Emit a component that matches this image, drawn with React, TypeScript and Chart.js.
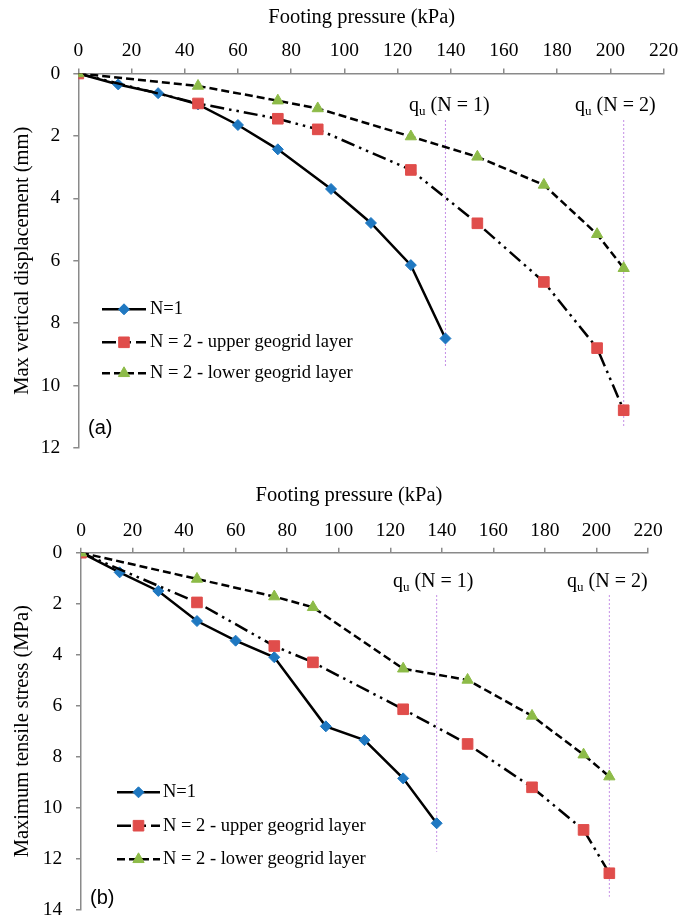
import React, { useEffect, useRef } from "react";
import { Chart, registerables } from "chart.js";

Chart.register(...registerables);

// ---------- data ----------
const pressureN1 = [0, 15, 30, 45, 60, 75, 95, 110, 125, 138];
const pressureN2 = [0, 45, 75, 90, 125, 150, 175, 195, 205];

const dispN1 = [0, 0.35, 0.63, 0.99, 1.65, 2.43, 3.7, 4.79, 6.14, 8.49];
const dispUpper = [0, 0.96, 1.45, 1.79, 3.09, 4.8, 6.68, 8.8, 10.79];
const dispLower = [0, 0.4, 0.87, 1.12, 2.02, 2.67, 3.57, 5.15, 6.24];

const stressN1 = [0, 0.77, 1.5, 2.68, 3.45, 4.1, 6.81, 7.35, 8.85, 10.61];
const stressUpper = [0, 1.95, 3.66, 4.3, 6.14, 7.5, 9.2, 10.87, 12.57];
const stressLower = [0, 1.03, 1.72, 2.14, 4.55, 4.99, 6.4, 7.92, 8.78];

const seriesLabels = ["N=1", "N = 2 - upper geogrid layer", "N = 2 - lower geogrid layer"];
const quValues = [138, 205];
const quLabels = ["(N = 1)", "(N = 2)"];
const dispQuStart = 1.49;
const dispQuEnds = [9.41, 11.36];
const stressQuStart = 1.66;
const stressQuEnds = [11.73, 13.49];

const xTitle = "Footing pressure (kPa)";
const dispTitle = "Max vertical displacement (mm)";
const stressTitle = "Maximum tensile stress (MPa)";

// ---------- styles ----------
const SERIF = '"Liberation Serif", "Times New Roman", serif';
const SANS = '"Liberation Sans", Arial, sans-serif';
const AXIS_GREY = "#8a8a8a";
const BLUE = "#1F78C1";
const RED = "#E04D4B";
const GREEN = "#8DBB48";
const QU_COLOR = "#C48EE6";

const seriesStyles = [
  { dash: [] as number[], shape: "rectRot", radius: 5.5, color: BLUE, order: 2 },
  { dash: [14, 5, 2.5, 5, 2.5, 5], shape: "rect", radius: 7.5, color: RED, order: 1 },
  { dash: [8, 4], shape: "triangle", radius: 6.5, color: GREEN, order: 0 },
];

function pts(xs: number[], ys: number[]) {
  return xs.map((x, i) => ({ x, y: ys[i] }));
}

function drawMarker(ctx: CanvasRenderingContext2D, shape: string, x: number, y: number, r: number, color: string) {
  ctx.save();
  ctx.fillStyle = color;
  ctx.strokeStyle = color;
  ctx.lineWidth = 1;
  ctx.setLineDash([]);
  ctx.beginPath();
  if (shape === "rectRot") {
    ctx.moveTo(x, y - r);
    ctx.lineTo(x + r, y);
    ctx.lineTo(x, y + r);
    ctx.lineTo(x - r, y);
  } else if (shape === "rect") {
    const s = r * Math.SQRT1_2;
    ctx.rect(x - s, y - s, 2 * s, 2 * s);
  } else {
    const h = r * Math.sqrt(3) / 2;
    ctx.moveTo(x, y - r);
    ctx.lineTo(x + h, y + r / 2);
    ctx.lineTo(x - h, y + r / 2);
  }
  ctx.closePath();
  ctx.fill();
  ctx.stroke();
  ctx.restore();
}

type PanelOpts = {
  height: number;
  yMax: number;
  yTitle: string;
  series: number[][];
  quStart: number;
  quEnds: number[];
  yWidth: number;
  xHeight: number;
  padRight: number;
  padBottom: number;
  yTickPad: number;
  quDx: number[];
  quBaseline: number;
  xTitleX: number;
  xTitleBaseline: number;
  legendRows: number[];
  legendX0: number;
  legendX1: number;
  legendMarkerX: number;
  legendTextX: number;
  panelLabel: string;
  panelX: number;
  panelY: number;
};

function makeChart(canvas: HTMLCanvasElement, o: PanelOpts) {
  const datasets: any[] = [];
  const xsets = [pressureN1, pressureN2, pressureN2];
  o.series.forEach((ys, i) => {
    const st = seriesStyles[i];
    datasets.push({
      label: seriesLabels[i],
      data: pts(xsets[i], ys),
      showLine: true,
      borderColor: "#000",
      borderWidth: 2.5,
      borderDash: st.dash,
      tension: 0,
      pointStyle: st.shape,
      pointRadius: st.radius,
      pointBackgroundColor: st.color,
      pointBorderColor: st.color,
      pointBorderWidth: 1,
      order: st.order,
    });
  });
  quValues.forEach((q, i) => {
    datasets.push({
      label: "qu" + i,
      data: [
        { x: q, y: o.quStart },
        { x: q, y: o.quEnds[i] },
      ],
      showLine: true,
      borderColor: QU_COLOR,
      borderWidth: 1,
      borderDash: [2, 2],
      pointRadius: 0,
      order: 3,
    });
  });

  const overlay = {
    id: "overlay",
    afterDraw(chart: any) {
      const ctx: CanvasRenderingContext2D = chart.ctx;
      const xs = chart.scales.x;
      ctx.save();
      ctx.fillStyle = "#000";
      // x axis title
      ctx.font = `20.5px ${SERIF}`;
      ctx.textAlign = "center";
      ctx.textBaseline = "alphabetic";
      ctx.fillText(xTitle, o.xTitleX, o.xTitleBaseline);
      // q_u labels
      ctx.textAlign = "left";
      quValues.forEach((q, i) => {
        let x = xs.getPixelForValue(q) + o.quDx[i];
        ctx.font = `20px ${SERIF}`;
        ctx.fillText("q", x, o.quBaseline);
        x += ctx.measureText("q").width;
        ctx.font = `13px ${SERIF}`;
        ctx.fillText("u", x, o.quBaseline + 4);
        x += ctx.measureText("u").width;
        ctx.font = `20px ${SERIF}`;
        ctx.fillText(" " + quLabels[i], x, o.quBaseline);
      });
      // legend
      seriesLabels.forEach((lab, i) => {
        const st = seriesStyles[i];
        const y = o.legendRows[i];
        ctx.save();
        ctx.strokeStyle = "#000";
        ctx.lineWidth = 2.5;
        ctx.setLineDash(st.dash);
        ctx.beginPath();
        ctx.moveTo(o.legendX0, y);
        ctx.lineTo(o.legendX1, y);
        ctx.stroke();
        ctx.restore();
        drawMarker(ctx, st.shape, o.legendMarkerX, y, st.radius, st.color);
        ctx.font = `18.5px ${SERIF}`;
        ctx.textBaseline = "middle";
        ctx.textAlign = "left";
        ctx.fillStyle = "#000";
        ctx.fillText(lab, o.legendTextX, y);
      });
      // panel label
      ctx.font = `20px ${SANS}`;
      ctx.textBaseline = "middle";
      ctx.fillText(o.panelLabel, o.panelX, o.panelY);
      ctx.restore();
    },
  };

  const zeroPad = (s: any) => {
    s.paddingTop = 0;
    s.paddingBottom = 0;
    s.paddingLeft = 0;
    s.paddingRight = 0;
  };

  return new Chart(canvas, {
    type: "scatter",
    data: { datasets },
    plugins: [overlay],
    options: {
      animation: false,
      responsive: false,
      maintainAspectRatio: false,
      layout: { padding: { left: 0, top: 0, right: o.padRight, bottom: o.padBottom } },
      plugins: { legend: { display: false }, tooltip: { enabled: false } },
      scales: {
        x: {
          type: "linear",
          position: "top",
          min: 0,
          max: 220,
          ticks: { stepSize: 20, color: "#000", font: { family: SERIF, size: 19.5 }, padding: 5.5, maxRotation: 0 },
          grid: { display: true, drawOnChartArea: false, drawTicks: true, tickLength: 5, color: AXIS_GREY, lineWidth: 1.5 },
          border: { display: true, color: AXIS_GREY, width: 1.5 },
          afterFit: (s: any) => {
            s.height = o.xHeight;
            zeroPad(s);
          },
        },
        y: {
          type: "linear",
          reverse: true,
          min: 0,
          max: o.yMax,
          ticks: { stepSize: 2, color: "#000", font: { family: SERIF, size: 19.5 }, padding: o.yTickPad },
          grid: { display: true, drawOnChartArea: false, drawTicks: true, tickLength: 5, color: AXIS_GREY, lineWidth: 1.5 },
          border: { display: true, color: AXIS_GREY, width: 1.5 },
          title: { display: true, text: o.yTitle, color: "#000", font: { family: SERIF, size: 20.5 }, padding: { top: 10, bottom: 0 } },
          afterFit: (s: any) => {
            s.width = o.yWidth;
            zeroPad(s);
          },
        },
      },
    } as any,
  });
}

const topOpts: PanelOpts = {
  height: 460,
  yMax: 12,
  yTitle: dispTitle,
  series: [dispN1, dispUpper, dispLower],
  quStart: dispQuStart,
  quEnds: dispQuEnds,
  yWidth: 78.3,
  xHeight: 73.5,
  padRight: 28.4,
  padBottom: 12,
  yTickPad: 13,
  quDx: [-36.4, -48.6],
  quBaseline: 111,
  xTitleX: 361.7,
  xTitleBaseline: 22.5,
  legendRows: [309.3, 342.3, 373.3],
  legendX0: 102,
  legendX1: 146,
  legendMarkerX: 124,
  legendTextX: 150,
  panelLabel: "(a)",
  panelX: 88,
  panelY: 428,
};

const bottomOpts: PanelOpts = {
  height: 459,
  yMax: 14,
  yTitle: stressTitle,
  series: [stressN1, stressUpper, stressLower],
  quStart: stressQuStart,
  quEnds: stressQuEnds,
  yWidth: 81,
  xHeight: 92.7,
  padRight: 44,
  padBottom: 9.3,
  yTickPad: 13.7,
  quDx: [-43.7, -42.3],
  quBaseline: 127,
  xTitleX: 349,
  xTitleBaseline: 41,
  legendRows: [332.3, 365.7, 399.3],
  legendX0: 117,
  legendX1: 160,
  legendMarkerX: 138.5,
  legendTextX: 163,
  panelLabel: "(b)",
  panelX: 90,
  panelY: 438,
};

function Panel({ opts }: { opts: PanelOpts }) {
  const ref = useRef<HTMLCanvasElement | null>(null);
  useEffect(() => {
    if (!ref.current) return;
    const chart = makeChart(ref.current, opts);
    return () => chart.destroy();
  }, [opts]);
  return <canvas ref={ref} width={692} height={opts.height} style={{ display: "block", width: 692, height: opts.height }} />;
}

export default function App() {
  return (
    <div style={{ position: "absolute", left: 0, top: 0, width: 692, height: 919, background: "#fff" }}>
      <Panel opts={topOpts} />
      <Panel opts={bottomOpts} />
    </div>
  );
}
